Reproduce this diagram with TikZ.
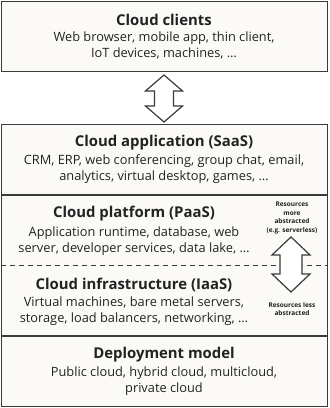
\documentclass[tikz,border=0pt]{standalone}
\usepackage{fontspec}
\setmainfont{Open Sans}
\definecolor{ln}{HTML}{3A3A3A}
\definecolor{bx}{HTML}{FBFAF7}
\definecolor{tx}{HTML}{222222}
\begin{document}
\begin{tikzpicture}[x=1pt,y=-1pt,
  boxline/.style={draw=ln,line width=1.4pt,fill=bx},
  sepline/.style={draw=ln,line width=1.4pt},
  dashline/.style={draw=ln,line width=1.2pt,dash pattern=on 5pt off 4pt},
  ttl/.style={font=\fontsize{14.9}{17}\selectfont\bfseries,text=tx,inner sep=0},
  bdy/.style={font=\fontsize{12.8}{15.8}\selectfont,align=center,inner sep=0,text=tx},
  sml/.style={font=\fontsize{6.5}{8.6}\selectfont\bfseries,align=center,inner sep=0,text=tx},
  arr/.style={draw=ln,line width=1.2pt,fill=white,line join=miter}]
\useasboundingbox[fill=white] (0,0) rectangle (330,408);
% boxes
\node[boxline,minimum width=326pt,minimum height=70pt,inner sep=0,anchor=north west] (clients) at (1,1) {};
\node[boxline,minimum width=326pt,minimum height=282pt,inner sep=0,anchor=north west] (stack) at (1,124) {};
\coordinate (s1l) at (1,195); \coordinate (s1r) at (327,195);
\coordinate (s2l) at (1,265.5); \coordinate (s2r) at (327,265.5);
\coordinate (s3l) at (1,336); \coordinate (s3r) at (327,336);
\draw[sepline] (s1l) -- (s1r);
\draw[dashline] (s2l) -- (s2r);
\draw[sepline] (s3l) -- (s3r);
% top double arrow
\draw[arr] (164,75) -- (182.5,91) -- (173.5,91) -- (173.5,106) -- (182.5,106) -- (164,122)
  -- (145.5,106) -- (154.5,106) -- (154.5,91) -- (145.5,91) -- cycle;
% right double arrow
\draw[arr] (291,237) -- (310,255) -- (302,255) -- (302,274) -- (310,274) -- (291,292)
  -- (272,274) -- (280,274) -- (280,255) -- (272,255) -- cycle;
% texts
\node[ttl] (t1) at (164,20) {Cloud clients};
\node[bdy] (b1) at (164,45.5) {Web browser, mobile app, thin client,\\IoT devices, machines, …};
\node[ttl] (t2) at (164,143) {Cloud application (SaaS)};
\node[bdy] (b2) at (164,169.5) {CRM, ERP, web conferencing, group chat, email,\\analytics, virtual desktop, games, …};
\node[ttl] (t3) at (134,214) {Cloud platform (PaaS)};
\node[bdy] (b3) at (134,241) {Application runtime, database, web\\server, developer services, data lake, …};
\node[ttl] (t4) at (134,285) {Cloud infrastructure (IaaS)};
\node[bdy] (b4) at (134,311) {Virtual machines, bare metal servers,\\storage, load balancers, networking, …};
\node[ttl] (t5) at (164,355) {Deployment model};
\node[bdy] (b5) at (164,381) {Public cloud, hybrid cloud, multicloud,\\private cloud};
\node[sml] (r1) at (292,218) {Resources\\more\\abstracted\\(e.g. serverless)};
\node[sml] (r2) at (292,309) {Resources less\\abstracted};
\end{tikzpicture}
\end{document}
